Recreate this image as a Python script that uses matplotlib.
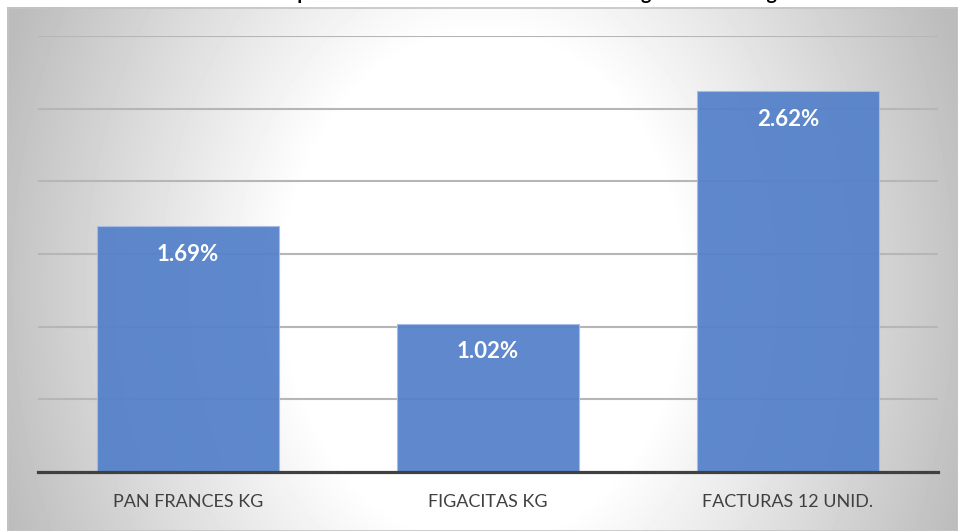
import numpy as np
import matplotlib.pyplot as plt

# values
categorias = ["PAN FRANCES KG", "FIGACITAS KG", "FACTURAS 12 UNID."]
variacion = [1.69, 1.02, 2.62]
etiquetas = ["1.69%", "1.02%", "2.62%"]
titulo = "Variación de precios mensual de los artículos de la región durante agosto"

W, H = 958, 531
fig = plt.figure(figsize=(W / 100, H / 100), dpi=100)
fig.patch.set_facecolor("white")

# radial gradient panel behind the chart (white centre, grey rim)
pw, ph = W - 7, H - 7
bg = fig.add_axes([7 / W, 0, pw / W, ph / H])
yy, xx = np.mgrid[0:ph, 0:pw]
r = np.sqrt(((xx - pw / 2) / 470) ** 2 + ((yy - 280) / 600) ** 2)
val = 1.0 - 0.23 * np.clip((r - 0.42) / 0.58, 0, 1.15)
bg.imshow(val, cmap="gray", vmin=0, vmax=1, aspect="auto", interpolation="bilinear")
bg.set_axis_off()
bg.add_patch(plt.Rectangle((0, 0), pw - 1, ph - 1, fill=False, ec="#c4c4c4", lw=1.2))

ax = fig.add_axes([38 / W, (H - 472) / H, 900 / W, (472 - 36) / H])
ax.patch.set_alpha(0)
x = np.arange(len(categorias))
bars = ax.bar(x, variacion, width=0.607, color="#5581ca", alpha=0.94,
              edgecolor="#a8bce6", linewidth=0.8, zorder=3)
for b, t in zip(bars, etiquetas):
    ax.annotate(t, (b.get_x() + b.get_width() / 2, b.get_height()),
                xytext=(0, -20), textcoords="offset points", ha="center", va="center",
                color="white", fontsize=16, fontweight="bold", family="Lato", zorder=4)

ax.set_xlim(-0.5, 2.5)
ax.set_ylim(0, 3.0)
ax.set_yticks(np.arange(0.5, 3.01, 0.5))
ax.set_yticklabels([])
ax.yaxis.grid(True, color="#b6b6b6", lw=1.5, zorder=0)
ax.tick_params(length=0)
ax.set_xticks(x)
ax.set_xticklabels(categorias, fontsize=13, family="Lato", color="#404040")
ax.tick_params(axis="x", pad=16)
for s in ["top", "right", "left"]:
    ax.spines[s].set_visible(False)
ax.spines["bottom"].set_color("#404040")
ax.spines["bottom"].set_linewidth(2.3)
ax.spines["bottom"].set_zorder(5)

# title sits above the visible area, only its descenders show, as in the reference
fig.text(500 / W, 1.0, titulo, ha="center", va="baseline",
         fontsize=14, fontweight="bold", family="Lato", color="black")

fig.savefig("out.png", dpi=100, facecolor="white")
